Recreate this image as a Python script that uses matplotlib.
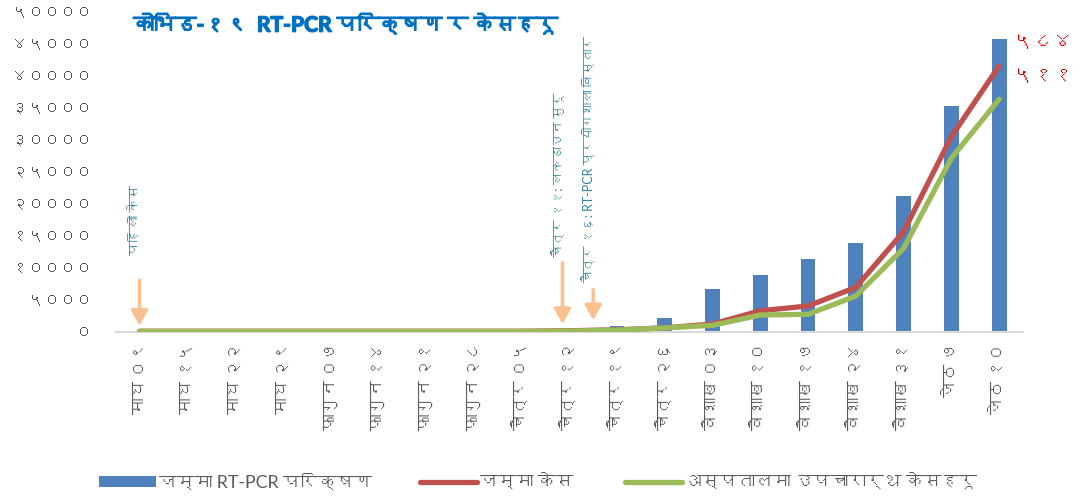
import matplotlib
matplotlib.use("Agg")
import matplotlib.pyplot as plt
import matplotlib.patheffects as pe
from matplotlib import font_manager
import numpy as np

# ---------- font discovery (Devanagari) ----------
def find_deva_fonts():
    found = []
    try:
        from fontTools.ttLib import TTFont
    except Exception:
        return found
    seen = set()
    for f in font_manager.fontManager.ttflist:
        if f.name in seen:
            continue
        try:
            tt = TTFont(f.fname, fontNumber=0, lazy=True)
            cmap = tt.getBestCmap()
            if cmap and 0x0915 in cmap and 0x0966 in cmap:
                found.append(f.name)
                seen.add(f.name)
        except Exception:
            pass
    return found

deva = find_deva_fonts()
plt.rcParams['font.family'] = ["Lato"] + deva[:1] + ["DejaVu Sans"]

# ---------- data ----------
categories = ["माघ ०९", "माघ १५", "माघ २२", "माघ २९", "फागुन ०७", "फागुन १४",
              "फागुन २१", "फागुन २८", "चैत्र ०५", "चैत्र १२", "चैत्र १९", "चैत्र २६",
              "वैशाख ०३", "वैशाख १०", "वैशाख १७", "वैशाख २४", "वैशाख ३१", "जेठ ७", "जेठ १०"]
tests = [100, 120, 150, 180, 200, 220, 250, 280, 300, 350, 940, 2190,
         6680, 8870, 11320, 13920, 21220, 35300, 45730]
cases = [71, 71, 71, 71, 71, 71, 71, 71, 71, 150, 300, 600,
         1200, 3280, 4020, 6940, 15640, 30500, 41550]
hospital = [50, 50, 50, 50, 50, 50, 50, 50, 50, 100, 250, 600,
            1000, 2610, 2720, 5580, 13040, 27120, 36350]
yticks = list(range(0, 50001, 5000))
series_names = ["जम्मा RT-PCR परिक्षण", "जम्मा केस", "अस्पतालमा उपचारार्थ केसहरू"]
title = "कोभिड-१९  RT-PCR परिक्षण र केसहरू"
end_labels = ["५८४", "५११"]
event_x = [0.0, 8 + 6 / 7, 9 + 3.5 / 7]
event_labels = ["पहिलो केस", "चैत्र ११: लकडाउन सुरू", "चैत्र १६: RT-PCR प्रयोगशाला विस्तार"]

DEV = str.maketrans("0123456789", "०१२३४५६७८९")
def dev(n):
    return str(n).translate(DEV)

# ---------- figure ----------
fig = plt.figure(figsize=(10.92, 5.0), dpi=100)
ax = fig.add_axes([0.1059, 0.3366, 0.8309, 0.6394])

x = np.arange(len(categories))
bars = ax.bar(x, tests, width=0.31, color="#4F81BD", zorder=2)
l1, = ax.plot(x, cases, color="#C0504D", lw=3.8, solid_capstyle="round", zorder=3)
l2, = ax.plot(x, hospital, color="#9BBB59", lw=3.8, solid_capstyle="round", zorder=4)

ax.set_xlim(-0.5, len(categories) - 0.5)
ax.set_ylim(0, 50000)
ax.set_yticks(yticks)
ax.set_yticklabels([dev(v) for v in yticks], fontsize=11.5, color="#595959")
ax.set_xticks(x)
ax.set_xticklabels(categories, rotation=90, fontsize=12, color="#595959")
ax.tick_params(axis="both", length=0)
ax.tick_params(axis="y", pad=17)
ax.tick_params(axis="x", pad=8)
for s in ["top", "right", "left"]:
    ax.spines[s].set_visible(False)
ax.spines["bottom"].set_color("#D9D9D9")
ax.spines["bottom"].set_linewidth(1.5)

# title
fig.text(0.122, 0.95, title, fontsize=15.2, fontweight="bold", color="#0070C0",
         ha="left", va="center",
         path_effects=[pe.withStroke(linewidth=1.0, foreground="#0070C0")])

# event annotations
arrow_from = [8500, 11200, 7000]
arrow_to = [500, 750, 1350]
text_base = [12000, 11700, 7600]
text_size = [9.6, 9.1, 9.0]
for xe, lab, y0, y1, tb, fs in zip(event_x, event_labels, arrow_from, arrow_to,
                                   text_base, text_size):
    ax.annotate("", xy=(xe, y1), xytext=(xe, y0),
                arrowprops=dict(arrowstyle="-|>,head_width=0.5,head_length=0.9",
                                color="#FAC090", lw=2.5), zorder=5)
    ax.text(xe - 0.1, tb, lab, rotation=90, fontsize=fs, color="#31849B",
            ha="center", va="bottom", zorder=5)

# end labels
ax.text(18.3, 45300, end_labels[0], fontsize=14.5, color="#E00000",
        ha="left", va="center", clip_on=False)
ax.text(18.3, 40000, end_labels[1], fontsize=14.5, color="#C00000",
        ha="left", va="center", clip_on=False)

# legend (one entry per block, placed like the reference)
for h, name, xpos in zip([bars, l1, l2], series_names, [0.091, 0.385, 0.572]):
    fig.legend([h], [name], loc="center left", bbox_to_anchor=(xpos, 0.035),
               frameon=False, fontsize=12.8, handlelength=3.2, handleheight=0.6,
               handletextpad=0.15, labelcolor="#595959", borderaxespad=0,
               borderpad=0)

fig.savefig("out.png", dpi=100)
